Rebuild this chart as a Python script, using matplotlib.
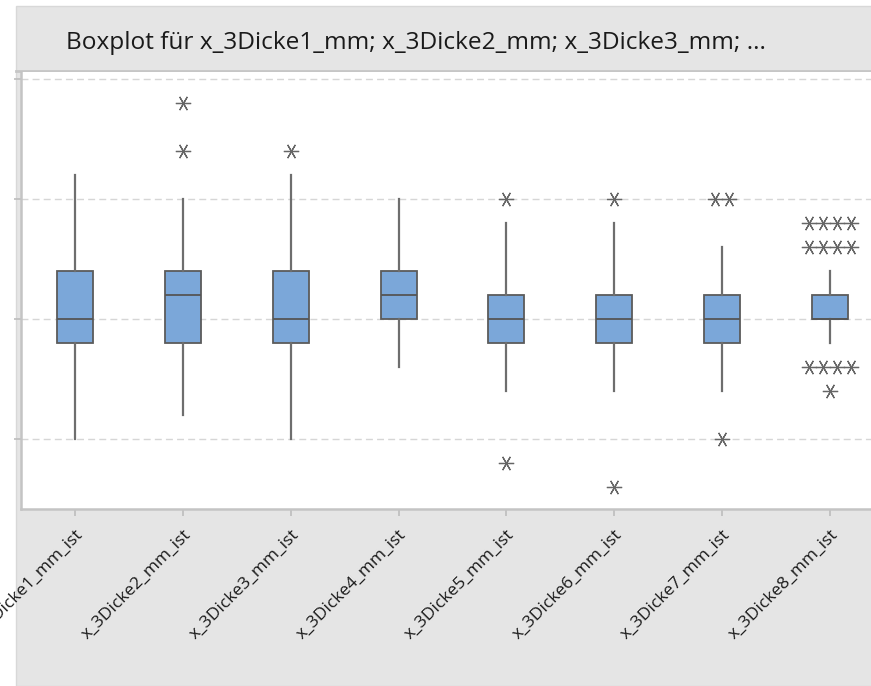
import matplotlib
matplotlib.use("Agg")
import matplotlib.pyplot as plt
from matplotlib.patches import Rectangle
from matplotlib.lines import Line2D

# data (y axis labels are cropped away, values are relative)
labels = ["x_3Dicke1_mm_ist", "x_3Dicke2_mm_ist", "x_3Dicke3_mm_ist", "x_3Dicke4_mm_ist",
          "x_3Dicke5_mm_ist", "x_3Dicke6_mm_ist", "x_3Dicke7_mm_ist", "x_3Dicke8_mm_ist"]
q1 = [2.98, 2.98, 2.98, 3.00, 2.98, 2.98, 2.98, 3.00]
med = [3.00, 3.02, 3.00, 3.02, 3.00, 3.00, 3.00, 3.00]
q3 = [3.04, 3.04, 3.04, 3.04, 3.02, 3.02, 3.02, 3.02]
whis_lo = [2.90, 2.92, 2.90, 2.96, 2.94, 2.94, 2.94, 2.98]
whis_hi = [3.12, 3.10, 3.12, 3.10, 3.08, 3.08, 3.06, 3.04]
outliers = [[],
            [3.18, 3.14],
            [3.14],
            [],
            [3.10, 2.88],
            [3.10, 2.86],
            [3.10, 3.10, 2.90],
            [3.08, 3.08, 3.08, 3.08, 3.06, 3.06, 3.06, 3.06,
             2.96, 2.96, 2.96, 2.96, 2.94]]
grid_vals = [2.9, 3.0, 3.1, 3.2]

W, H = 871, 686
fig = plt.figure(figsize=(W / 100, H / 100), dpi=100, facecolor="white")
plt.rcParams["font.family"] = ["Open Sans", "DejaVu Sans"]

# grey panel behind everything
fig.patches.append(Rectangle((16 / W, 0), 1, 1 - 6 / H, transform=fig.transFigure,
                             facecolor="#e5e5e5", edgecolor="#d8d8d8", lw=1, zorder=-10))
fig.lines.append(Line2D([16 / W, 1], [1 - 71 / H, 1 - 71 / H], transform=fig.transFigure,
                        color="#c6c6c6", lw=2, zorder=-5))

ax = fig.add_axes([21 / W, 1 - 509 / H, 1 - 21 / W, (509 - 72) / H])
ax.set_facecolor("white")

stats = []
for i in range(len(labels)):
    stats.append({"q1": q1[i], "med": med[i], "q3": q3[i],
                  "whislo": whis_lo[i], "whishi": whis_hi[i], "fliers": []})

pos = list(range(1, len(labels) + 1))
ax.bxp(stats, positions=pos, widths=0.334, patch_artist=True, showcaps=False,
       showfliers=False,
       boxprops=dict(facecolor="#7ba7d9", edgecolor="#5b5b5b", linewidth=1.3),
       medianprops=dict(color="#555555", linewidth=1.3),
       whiskerprops=dict(color="#6e6e6e", linewidth=1.6))

# outliers, ties are spread sideways like Minitab does
for i, vals in enumerate(outliers):
    seen = {}
    for v in vals:
        seen[v] = seen.get(v, 0) + 1
    for v, n in seen.items():
        xs = [pos[i] + (k - (n - 1) / 2) * 0.13 for k in range(n)]
        ax.plot(xs, [v] * n, linestyle="none", marker=(6, 2, 90), markersize=11,
                markeredgewidth=0.9, color="#666666", zorder=4)

ax.set_xlim(0.5, 8.38)
ax.set_ylim(2.8417, 3.2058)
ax.set_yticks(grid_vals)
ax.set_yticklabels([])
ax.yaxis.grid(True, color="#d6d6d6", linestyle=(0, (5, 3)), linewidth=1)
ax.set_axisbelow(True)

ax.set_xticks(pos)
ax.set_xticklabels(labels, rotation=45, ha="right", rotation_mode="anchor",
                   fontsize=12.5, color="#1a1a1a")
ax.tick_params(axis="x", length=5, width=1.2, color="#bdbdbd", pad=8)
ax.tick_params(axis="y", length=5, width=1.2, color="#bdbdbd")

for s in ["top", "right"]:
    ax.spines[s].set_visible(False)
for s in ["left", "bottom"]:
    ax.spines[s].set_color("#c4c4c4")
    ax.spines[s].set_linewidth(1.8)

fig.text(66 / W, 1 - 43 / H, "Boxplot für x_3Dicke1_mm; x_3Dicke2_mm; x_3Dicke3_mm; ...",
         fontsize=17.6, color="#1a1a1a", va="center", ha="left")

fig.savefig("out.png", dpi=100, facecolor="white")
